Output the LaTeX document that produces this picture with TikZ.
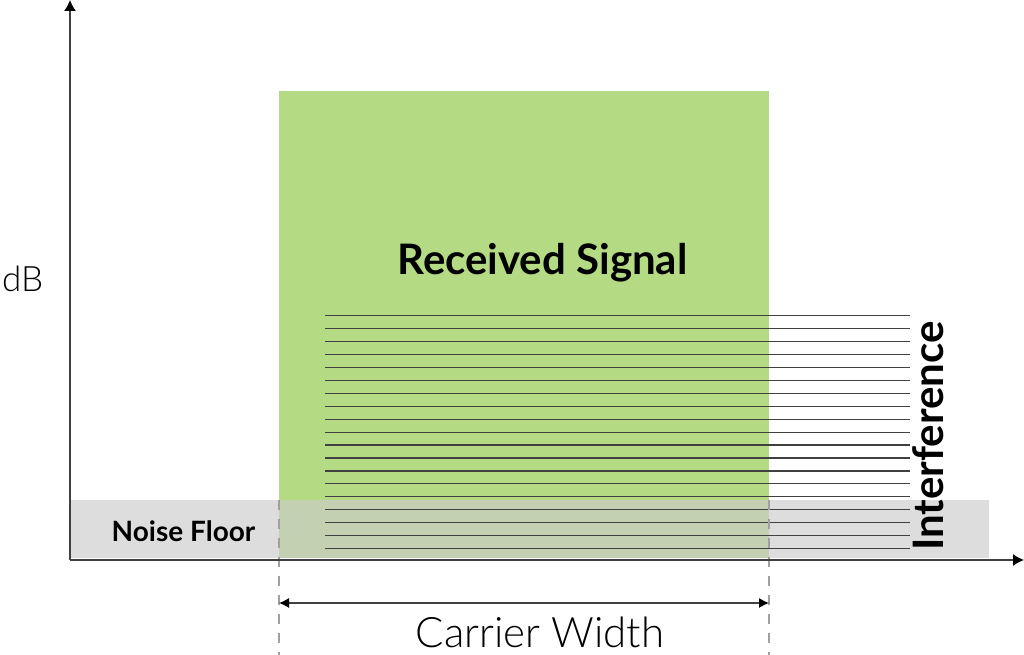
\documentclass[tikz,border=0pt]{standalone}
\usepackage{fontspec}
\usepackage{tikz}
\usetikzlibrary{arrows.meta}
\setmainfont{Lato}
\newfontfamily\latolight{Lato Light}
\definecolor{sigGreen}{RGB}{181,218,132}
\definecolor{floorGrey}{RGB}{203,203,203}
\definecolor{lineGrey}{RGB}{64,64,64}
\definecolor{dashGrey}{RGB}{160,160,160}

\begin{document}
\begin{tikzpicture}[x=1pt,y=1pt,
    axis/.style={line width=1.4pt,draw=lineGrey,-{Latex[length=11pt,width=12pt,color=black]}},
    intf/.style={line width=1.2pt,draw=lineGrey},
    edge/.style={line width=1.2pt,draw=dashGrey,dash pattern=on 10pt off 9pt},
    label/.style={inner sep=0pt,anchor=base}]
    \useasboundingbox (0,0) rectangle (1024,655);

    \fill[sigGreen] (279,97) rectangle (769,564);
    \fill[floorGrey,fill opacity=0.65] (70,97) rectangle (989,155);

    \draw[intf] (325,339.3)--(910,339.3);
    \draw[intf] (325,326.4)--(910,326.4);
    \draw[intf] (325,313.4)--(910,313.4);
    \draw[intf] (325,300.5)--(910,300.5);
    \draw[intf] (325,287.5)--(910,287.5);
    \draw[intf] (325,274.6)--(910,274.6);
    \draw[intf] (325,261.7)--(910,261.7);
    \draw[intf] (325,248.7)--(910,248.7);
    \draw[intf] (325,235.8)--(910,235.8);
    \draw[intf] (325,222.8)--(910,222.8);
    \draw[intf] (325,209.9)--(910,209.9);
    \draw[intf] (325,197.0)--(910,197.0);
    \draw[intf] (325,184.0)--(910,184.0);
    \draw[intf] (325,171.1)--(910,171.1);
    \draw[intf] (325,158.1)--(910,158.1);
    \draw[intf] (325,145.2)--(910,145.2);
    \draw[intf] (325,132.3)--(910,132.3);
    \draw[intf] (325,119.3)--(910,119.3);
    \draw[intf] (325,106.4)--(910,106.4);

    \draw[edge] (279,155)--(279,0);
    \draw[edge] (769,155)--(769,0);

    \coordinate (orig) at (70,95);
    \coordinate (ytop) at (70,655);
    \coordinate (xend) at (1024,95);
    \coordinate (cwl) at (279,52);
    \coordinate (cwr) at (769,52);
    \draw[axis] (orig)--(ytop);
    \draw[axis] (orig)--(xend);
    \draw[line width=1.2pt,draw=lineGrey,{Latex[length=10pt,width=10pt,color=black]}-{Latex[length=10pt,width=10pt,color=black]}] (cwl)--(cwr);

    \node[label] (sig) at (542.5,380) {\fontsize{42}{50}\selectfont\bfseries Received Signal};
    \node[label,anchor=base west] (db) at (2,363) {\latolight\fontsize{35}{42}\selectfont dB};
    \node[label] (cw) at (540,7) {\latolight\fontsize{42}{50}\selectfont Carrier Width};
    \node[label] (nf) at (183.5,113) {\fontsize{28}{34}\selectfont\bfseries Noise Floor};
    \node[label,rotate=90] (intf) at (943,219) {\fontsize{42}{50}\selectfont\bfseries Interference};
\end{tikzpicture}
\end{document}
